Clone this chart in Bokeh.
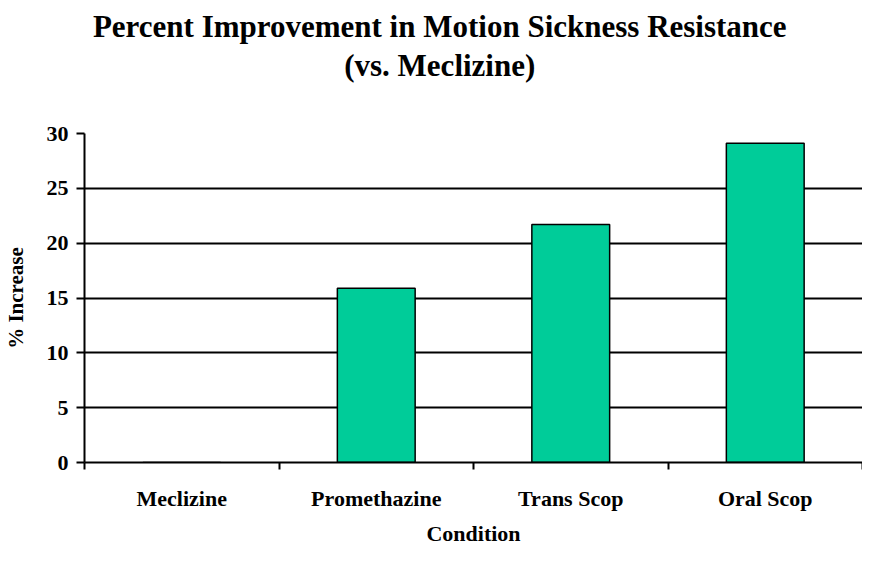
from bokeh.plotting import figure
from bokeh.layouts import column
from bokeh.models import FixedTicker, Label, Range1d, ColumnDataSource
from bokeh.embed import file_html
from bokeh.resources import INLINE

categories = ["Meclizine", "Promethazine", "Trans Scop", "Oral Scop"]
values = [0.0, 15.9, 21.7, 29.1]
y_ticks = [0, 5, 10, 15, 20, 25, 30]
title_lines = ["Percent Improvement in Motion Sickness Resistance", "(vs. Meclizine)"]

FONT = "Liberation Serif"
W = 862
LEFT = 78
TITLE_H = 117
CHART_H = 431
TITLE_CX = 436           # title centre, pixels from figure left
n = len(categories)

# ---- title strip ----
t = figure(width=W, height=TITLE_H, output_backend="svg", toolbar_location=None,
           x_range=Range1d(0, W - LEFT), y_range=Range1d(0, TITLE_H),
           min_border_left=LEFT, min_border_right=0, min_border_top=0,
           min_border_bottom=0, x_axis_location=None, y_axis_location=None)
t.title = None
t.outline_line_color = None
t.grid.visible = False
t.background_fill_color = "white"
t.border_fill_color = "white"
for txt, base_px in zip(title_lines, [26, 65]):
    t.add_layout(Label(x=TITLE_CX - LEFT, y=TITLE_H - base_px, text=txt,
                       text_align="center", text_baseline="alphabetic",
                       text_font=FONT, text_font_size="31px",
                       text_font_style="bold", text_color="black"))

# ---- chart ----
positions = [i + 0.5 for i in range(n)]
boundaries = [float(i) for i in range(n + 1)]
src = ColumnDataSource(dict(x=positions, top=values, name=categories))

p = figure(width=W, height=CHART_H, output_backend="svg", toolbar_location=None,
           x_range=Range1d(0, n), y_range=Range1d(0, max(y_ticks)),
           min_border_left=LEFT, min_border_right=0, min_border_bottom=86,
           min_border_top=16)
p.title = None
p.outline_line_color = None
p.background_fill_color = "white"
p.border_fill_color = "white"

p.vbar(x="x", top="top", width=0.4, bottom=0, source=src,
       fill_color="#00CC99", line_color="black", line_width=1.5)

p.xgrid.visible = False
p.ygrid.ticker = FixedTicker(ticks=y_ticks)
p.ygrid.grid_line_color = "black"
p.ygrid.grid_line_width = 2

xa = p.xaxis[0]
xa.ticker = FixedTicker(ticks=positions, minor_ticks=boundaries)
xa.major_label_overrides = {pos: c for pos, c in zip(positions, categories)}
xa.major_tick_out = 0
xa.major_tick_in = 0
xa.minor_tick_out = 7
xa.minor_tick_in = 0
xa.minor_tick_line_width = 2
xa.minor_tick_line_color = "black"
xa.axis_line_width = 2
xa.axis_line_color = "black"
xa.major_label_text_font = FONT
xa.major_label_text_font_size = "22px"
xa.major_label_text_font_style = "bold"
xa.major_label_text_color = "black"
xa.major_label_standoff = 16
xa.axis_label = "Condition"
xa.axis_label_text_font = FONT
xa.axis_label_text_font_size = "22px"
xa.axis_label_text_font_style = "bold"
xa.axis_label_text_color = "black"
xa.axis_label_standoff = 7

ya = p.yaxis[0]
ya.ticker = FixedTicker(ticks=y_ticks, minor_ticks=[])
ya.major_tick_out = 8
ya.major_tick_in = 0
ya.major_tick_line_width = 2
ya.major_tick_line_color = "black"
ya.axis_line_width = 2
ya.axis_line_color = "black"
ya.major_label_text_font = FONT
ya.major_label_text_font_size = "22px"
ya.major_label_text_font_style = "bold"
ya.major_label_text_color = "black"
ya.major_label_standoff = 8
ya.axis_label = "% Increase"
ya.axis_label_text_font = FONT
ya.axis_label_text_font_size = "21px"
ya.axis_label_text_font_style = "bold"
ya.axis_label_text_color = "black"
ya.axis_label_standoff = 16

layout = column(t, p, spacing=0)
open("out.html", "w").write(file_html(layout, INLINE))
